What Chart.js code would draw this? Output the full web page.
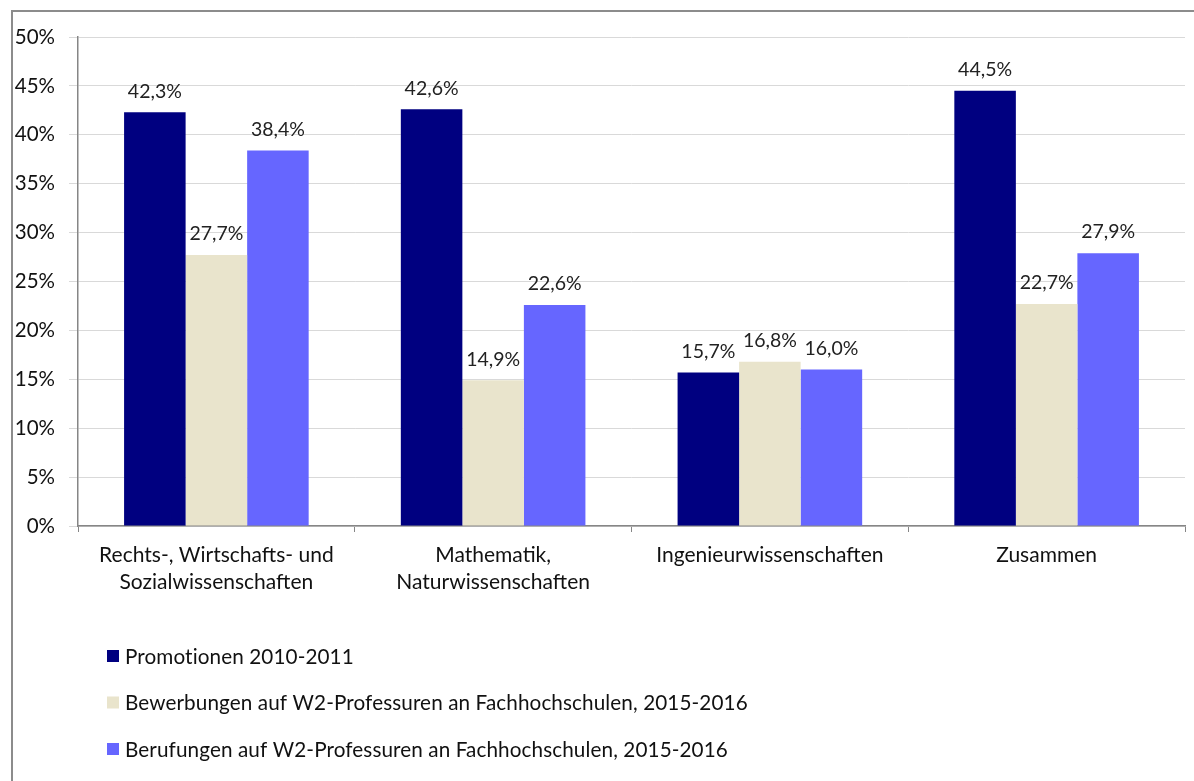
<!DOCTYPE html>
<html lang="de">
<head>
<meta charset="UTF-8">
<title>Frauenanteile</title>
<script src="https://cdn.jsdelivr.net/npm/chart.js"></script>
<style>
  html, body { margin: 0; padding: 0; background: #fff; overflow: hidden; }
  #frame { position: absolute; left: 11px; top: 10px; width: 1300px; height: 900px; border: 2px solid #8c8c8c; }
  #wrap { position: absolute; left: 0; top: 0; width: 1194px; height: 781px; }
</style>
</head>
<body>
<div id="frame"></div>
<div id="wrap"><canvas id="chart"></canvas></div>
<script>
// Daten
const categories = [
  ['Rechts-, Wirtschafts- und', 'Sozialwissenschaften'],
  ['Mathematik,', 'Naturwissenschaften'],
  'Ingenieurwissenschaften',
  'Zusammen'
];
const seriesNames = [
  'Promotionen 2010-2011',
  'Bewerbungen auf W2-Professuren an Fachhochschulen, 2015-2016',
  'Berufungen auf W2-Professuren an Fachhochschulen, 2015-2016'
];
const promotionen = [42.3, 42.6, 15.7, 44.5];
const bewerbungen = [27.7, 14.9, 16.8, 22.7];
const berufungen = [38.4, 22.6, 16.0, 27.9];
const yTicks = [0, 5, 10, 15, 20, 25, 30, 35, 40, 45, 50];

const colors = ['#000080', '#E9E4CC', '#6666FF'];
const FONT = 'Lato, "Open Sans", sans-serif';

// Werte über den Balken
const valueLabels = {
  id: 'valueLabels',
  afterDatasetsDraw(chart) {
    const ctx = chart.ctx;
    ctx.save();
    ctx.font = '19.5px ' + FONT;
    ctx.fillStyle = '#222';
    ctx.textAlign = 'center';
    ctx.textBaseline = 'middle';
    chart.data.datasets.forEach((ds, i) => {
      chart.getDatasetMeta(i).data.forEach((bar, j) => {
        const txt = ds.data[j].toFixed(1).replace('.', ',') + '%';
        ctx.fillText(txt, bar.x, bar.y - 21);
      });
    });
    ctx.restore();
  }
};

// Legende untereinander, links unten
const stackedLegend = {
  id: 'stackedLegend',
  afterDraw(chart) {
    const ctx = chart.ctx;
    ctx.save();
    ctx.font = '20.7px ' + FONT;
    ctx.letterSpacing = '0.1px'; // keine "ti"-Ligatur
    ctx.textBaseline = 'middle';
    chart.data.datasets.forEach((ds, i) => {
      const y = 656 + i * 46.5;
      ctx.fillStyle = ds.backgroundColor;
      ctx.fillRect(107, y - 6, 12, 12);
      ctx.fillStyle = '#111';
      ctx.fillText(ds.label, 125, y + 1);
    });
    ctx.restore();
  }
};

const ctx = document.getElementById('chart').getContext('2d');
new Chart(ctx, {
  type: 'bar',
  data: {
    labels: categories,
    datasets: [
      { label: seriesNames[0], data: promotionen, backgroundColor: colors[0] },
      { label: seriesNames[1], data: bewerbungen, backgroundColor: colors[1] },
      { label: seriesNames[2], data: berufungen, backgroundColor: colors[2] }
    ]
  },
  options: {
    responsive: true,
    maintainAspectRatio: false,
    animation: false,
    layout: { padding: { left: 0, top: 37, right: 9, bottom: 155 } },
    datasets: { bar: { categoryPercentage: 0.667, barPercentage: 1.0 } },
    plugins: {
      legend: { display: false },
      tooltip: { enabled: false }
    },
    scales: {
      x: {
        afterFit(scale) { scale.height = 100; },
        grid: { offset: true, drawOnChartArea: false, tickLength: 6, color: '#868686' },
        border: { color: '#868686', width: 1.5 },
        ticks: {
          padding: 10, color: '#111', maxRotation: 0, autoSkip: false,
          font: { family: FONT, size: 21, lineHeight: 1.29 }
        }
      },
      y: {
        min: 0, max: 50,
        afterFit(scale) { scale.width = 78; },
        afterBuildTicks(scale) { scale.ticks = yTicks.map(v => ({ value: v })); },
        grid: { color: '#d9d9d9', tickLength: 9 },
        border: { color: '#868686', width: 1.5 },
        ticks: {
          padding: 14, color: '#111',
          font: { family: FONT, size: 20.5 },
          callback: v => v + '%'
        }
      }
    }
  },
  plugins: [valueLabels, stackedLegend]
});
</script>
</body>
</html>
